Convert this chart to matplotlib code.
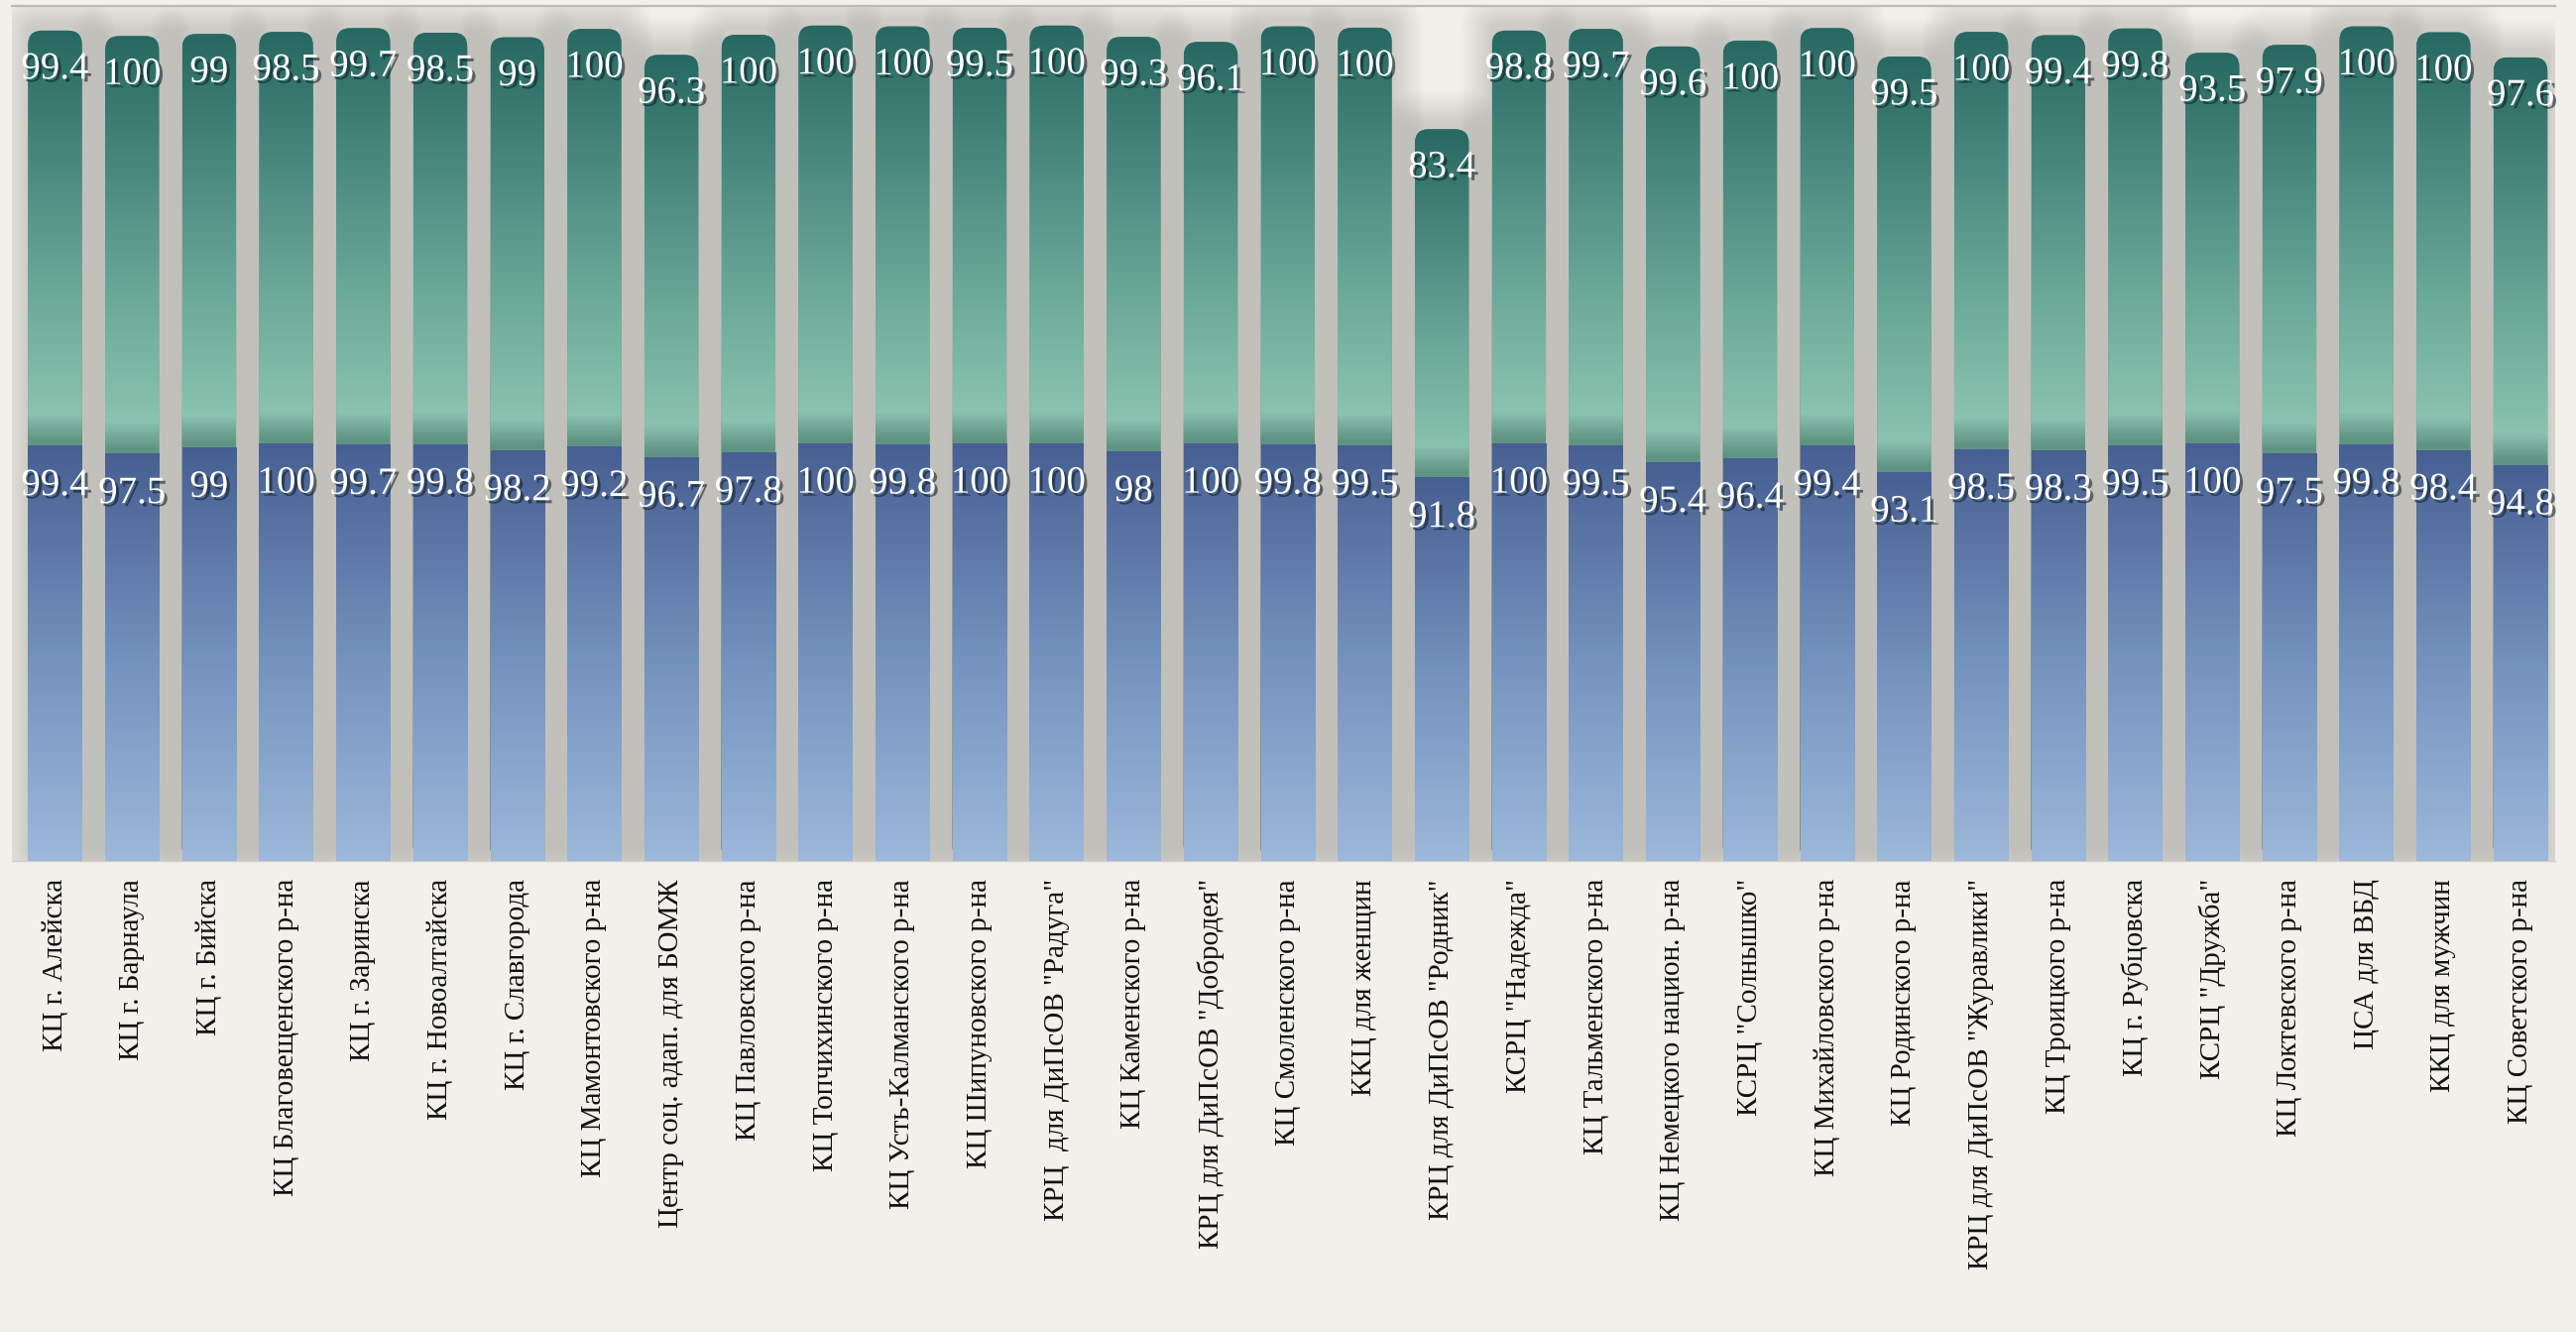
import numpy as np
import matplotlib
matplotlib.use("Agg")
import matplotlib.pyplot as plt
from matplotlib.patches import FancyBboxPatch, Rectangle
from matplotlib.colors import LinearSegmentedColormap
import matplotlib.patheffects as pe

categories = [
    "КЦ г. Алейска", "КЦ г. Барнаула", "КЦ г. Бийска", "КЦ Благовещенского р-на",
    "КЦ г. Заринска", "КЦ г. Новоалтайска", "КЦ г. Славгорода", "КЦ Мамонтовского р-на",
    "Центр соц. адап. для БОМЖ", "КЦ Павловского р-на", "КЦ Топчихинского р-на",
    "КЦ Усть-Калманского р-на", "КЦ Шипуновского р-на", "КРЦ  для ДиПсОВ \"Радуга\"",
    "КЦ Каменского р-на", "КРЦ для ДиПсОВ \"Добродея\"", "КЦ Смоленского р-на",
    "ККЦ для женщин", "КРЦ для ДиПсОВ \"Родник\"", "КСРЦ \"Надежда\"",
    "КЦ Тальменского р-на", "КЦ Немецкого национ. р-на", "КСРЦ \"Солнышко\"",
    "КЦ Михайловского р-на", "КЦ Родинского р-на", "КРЦ для ДиПсОВ \"Журавлики\"",
    "КЦ Троицкого р-на", "КЦ г. Рубцовска", "КСРЦ \"Дружба\"", "КЦ Локтевского р-на",
    "ЦСА для ВБД", "ККЦ для мужчин", "КЦ Советского р-на",
]
series_bottom = [99.4, 97.5, 99, 100, 99.7, 99.8, 98.2, 99.2, 96.7, 97.8, 100,
                 99.8, 100, 100, 98, 100, 99.8, 99.5, 91.8, 100, 99.5, 95.4,
                 96.4, 99.4, 93.1, 98.5, 98.3, 99.5, 100, 97.5, 99.8, 98.4, 94.8]
series_top = [99.4, 100, 99, 98.5, 99.7, 98.5, 99, 100, 96.3, 100, 100,
              100, 99.5, 100, 99.3, 96.1, 100, 100, 83.4, 98.8, 99.7, 99.6,
              100, 100, 99.5, 100, 99.4, 99.8, 93.5, 97.9, 100, 100, 97.6]

W, H = 2598, 1343
BG = "#f2f0eb"
fig = plt.figure(figsize=(W / 100, H / 100), dpi=100, facecolor=BG)
ax = fig.add_axes([12 / W, 1 - 868 / H, (2577 - 12) / W, (868 - 6) / H])
ax.set_facecolor(BG)

XMIN, XMAX, YMAX = -0.56, 32.45, 204.7
ax.set_xlim(XMIN, XMAX)
ax.set_ylim(0, YMAX)
xu = (XMAX - XMIN) / (2577 - 12)   # data units per pixel (x)
yu = YMAX / (868 - 6)               # data units per pixel (y)

x = np.arange(len(categories))
bw = 0.7
bottom = np.array(series_bottom, float)
top = np.array(series_top, float)
total = bottom + top

green_cmap = LinearSegmentedColormap.from_list(
    "g", [(0.0, "#92cab6"), (0.45, "#62a191"), (1.0, "#276862")])
blue_cmap = LinearSegmentedColormap.from_list(
    "b", [(0.0, "#9cb8da"), (0.5, "#7391bd"), (1.0, "#475f92")])
grad = np.linspace(0, 1, 256).reshape(-1, 1)

# bars through the library (geometry source)
bars_b = ax.bar(x, bottom, width=bw, color="#6a86b3", linewidth=0, zorder=4)
bars_t = ax.bar(x, top, bottom=bottom, width=bw, color="none", linewidth=0, zorder=2)

ma = yu / xu
r = 14 * xu
N, step, a = 18, 1.8, 0.016
for i in range(len(x)):
    bt = bars_t[i]
    x0, w = bt.get_x(), bt.get_width()
    y0, y1 = bt.get_y(), bt.get_y() + bt.get_height()
    # soft drop shadow of the whole bar (cast slightly upward)
    for k in range(1, N + 1):
        e = k * step
        ax.add_patch(FancyBboxPatch((x0 - e * xu, -e * yu + 6 * yu), w + 2 * e * xu, y1 + 2 * e * yu,
                                    boxstyle=f"round,pad=0,rounding_size={(8 + e) * xu}",
                                    mutation_aspect=ma,
                                    facecolor="#7f7a71", alpha=a, linewidth=0, zorder=1))
    # rounded green segment
    gp = FancyBboxPatch((x0, 0), w, y1, boxstyle=f"round,pad=0,rounding_size={r}",
                        mutation_aspect=ma, facecolor="#5a9a8b", linewidth=0, zorder=2)
    ax.add_patch(gp)
    im = ax.imshow(grad, cmap=green_cmap, extent=[x0, x0 + w, y0, y1], origin="lower",
                   aspect="auto", interpolation="bilinear", zorder=2.1)
    im.set_clip_path(gp)
    # soft shadow of the blue segment cast onto the green one
    for k in range(1, 26):
        e = k * 1.1
        sp = Rectangle((x0 - e * xu, -e * yu + 4 * yu), w + 2 * e * xu, y0 + 2 * e * yu,
                       facecolor="#1d3f37", alpha=0.017, linewidth=0, zorder=2.5)
        ax.add_patch(sp)
        sp.set_clip_path(gp)
    # blue gradient
    bb = bars_b[i]
    imb = ax.imshow(grad, cmap=blue_cmap, extent=[bb.get_x(), bb.get_x() + bb.get_width(), 0, bb.get_height()],
                    origin="lower", aspect="auto", interpolation="bilinear", zorder=4.1)
    imb.set_clip_path(bb)

ax.set_xlim(XMIN, XMAX)
ax.set_ylim(0, YMAX)

shadow = [pe.withSimplePatchShadow(offset=(2.2, -2.2), shadow_rgbFace="#102028", alpha=0.6)]
for i in range(len(x)):
    ax.annotate(f"{top[i]:g}", (x[i], total[i]), xytext=(0, -28), textcoords="offset points",
                ha="center", va="center", fontsize=28, color="white", family="Liberation Serif",
                path_effects=shadow, zorder=6)
    ax.annotate(f"{bottom[i]:g}", (x[i], bottom[i]), xytext=(0, -29), textcoords="offset points",
                ha="center", va="center", fontsize=28, color="white", family="Liberation Serif",
                path_effects=shadow, zorder=6)

ax.set_xticks(x)
ax.set_xticklabels(categories, rotation=90, fontsize=21, family="Liberation Serif", color="#111111")
ax.tick_params(axis="x", length=0, pad=13)
ax.set_yticks([])
for s in ("left", "right"):
    ax.spines[s].set_visible(False)
ax.spines["top"].set_color("#bdbab4")
ax.spines["top"].set_linewidth(1.6)
ax.spines["bottom"].set_color("#cfccc6")
ax.spines["bottom"].set_linewidth(1.0)

fig.savefig("out.png", dpi=100, facecolor=BG)
